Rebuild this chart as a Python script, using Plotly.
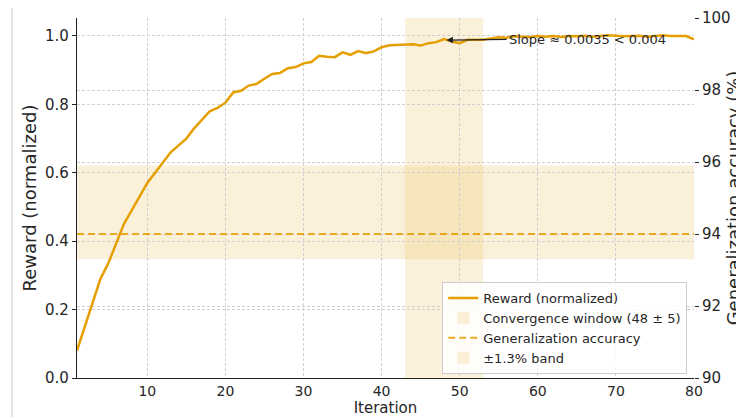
import plotly.graph_objects as go

iterations = list(range(1, 81))
reward = [0.08, 0.15, 0.22, 0.29, 0.335, 0.39, 0.45, 0.49, 0.53, 0.57,
          0.60, 0.63, 0.66, 0.68, 0.70, 0.73, 0.755, 0.78, 0.79, 0.805,
          0.835, 0.84, 0.855, 0.86, 0.875, 0.889, 0.892, 0.906, 0.909, 0.92,
          0.924, 0.942, 0.939, 0.938, 0.952, 0.945, 0.956, 0.950, 0.955, 0.967,
          0.973, 0.974, 0.974, 0.976, 0.972, 0.979, 0.982, 0.991, 0.984, 0.979,
          0.989, 0.988, 0.989, 0.993, 0.996, 0.995, 0.999, 0.998, 0.997, 1.0,
          0.998, 1.0, 0.997, 1.0, 0.999, 1.001, 0.998, 1.0, 1.002, 1.001,
          0.999, 1.0, 1.001, 0.998, 1.0, 1.002, 1.0, 0.999, 1.0, 0.99]

conv_center = 48
conv_half = 5
gen_acc = 94.0
band_center = 94.6
band_half = 1.3
slope_point = (48.3, 0.988)
slope_text_pos = (56, 0.99)

x_ticks = [10, 20, 30, 40, 50, 60, 70, 80]
y_ticks = [0.0, 0.2, 0.4, 0.6, 0.8, 1.0]
y2_ticks = [90, 92, 94, 96, 98, 100]

ORANGE = "#E69F00"
FILL = "rgba(230,159,0,0.14)"
TXT = "#262626"
GRID = "#d0d0d0"
FONT = "DejaVu Sans"

# page body has an 8px margin, so the figure is sized/offset to compensate
ML, MR, MT, MB = 69, 50, 10, 39
W, H = 736, 409
PW = W - ML - MR
PH = H - MT - MB

fig = go.Figure()

fig.add_trace(go.Scatter(
    x=iterations, y=reward, mode="lines", name="Reward (normalized)",
    line=dict(color=ORANGE, width=2.5), legendrank=1, yaxis="y"))

fig.add_trace(go.Scatter(
    x=[iterations[0], iterations[-1]], y=[gen_acc, gen_acc], mode="lines",
    name="Generalization accuracy", line=dict(color=ORANGE, width=2, dash="7px,4px"),
    opacity=0.85, legendrank=3, yaxis="y2"))

fig.add_shape(type="rect", xref="x", yref="paper",
              x0=conv_center - conv_half, x1=conv_center + conv_half, y0=0, y1=1,
              fillcolor=FILL, line=dict(width=0), layer="below",
              showlegend=True, name="Convergence window (48 ± 5)", legendrank=2)
fig.add_shape(type="rect", xref="paper", yref="y2",
              x0=0, x1=1, y0=band_center - band_half, y1=band_center + band_half,
              fillcolor=FILL, line=dict(width=0), layer="below",
              showlegend=True, name="±1.3% band", legendrank=4)

# light frame line near the left edge of the picture
fx = (12 - 8 - ML) / PW
fig.add_shape(type="line", xref="paper", yref="paper",
              x0=fx, x1=fx, y0=-MB / PH, y1=1 + MT / PH,
              line=dict(color="#e6e6e6", width=2))

fig.add_annotation(
    x=slope_point[0], y=slope_point[1], ax=slope_text_pos[0], ay=slope_text_pos[1],
    xref="x", yref="y", axref="x", ayref="y",
    text="Slope ≈ 0.0035 < 0.004", showarrow=True, arrowhead=2, arrowsize=1,
    arrowwidth=1.3, arrowcolor="#222", xanchor="left",
    font=dict(size=13, color=TXT, family=FONT))

fig.update_layout(
    width=W, height=H,
    margin=dict(l=ML, r=MR, t=MT, b=MB, autoexpand=False),
    paper_bgcolor="white", plot_bgcolor="white",
    font=dict(family=FONT, size=15, color=TXT),
    showlegend=True,
    legend=dict(x=0.989, y=0.011, xanchor="right", yanchor="bottom",
                bgcolor="rgba(255,255,255,0.85)", bordercolor="#cccccc", borderwidth=1,
                font=dict(size=13, color=TXT, family=FONT), traceorder="normal",
                tracegroupgap=0, itemwidth=30),
    xaxis=dict(range=[1, 80], tickvals=x_ticks, showgrid=True, gridcolor=GRID,
               griddash="3px,2px", gridwidth=1, showline=True, linecolor="#222",
               linewidth=1.3, ticks="", zeroline=False,
               title=dict(text="Iteration", standoff=3, font=dict(size=15)),
               tickfont=dict(size=14)),
    yaxis=dict(range=[0, 1.0526], tickvals=y_ticks, tickformat=".1f",
               showgrid=True, gridcolor=GRID, griddash="3px,2px", gridwidth=1,
               showline=True, linecolor="#222", linewidth=1.3, ticks="outside",
               ticklen=4, tickcolor="#222", zeroline=False,
               title=dict(text="Reward (normalized)", standoff=3),
               tickfont=dict(size=15)),
    yaxis2=dict(range=[90, 100], tickvals=y2_ticks, overlaying="y", side="right",
                showgrid=True, gridcolor=GRID, griddash="3px,2px", gridwidth=1,
                showline=False, ticks="outside", ticklen=4, tickcolor="#222",
                zeroline=False, title=dict(text="Generalization accuracy (%)", standoff=15),
                tickfont=dict(size=15)),
)

fig.write_html("out.html")
